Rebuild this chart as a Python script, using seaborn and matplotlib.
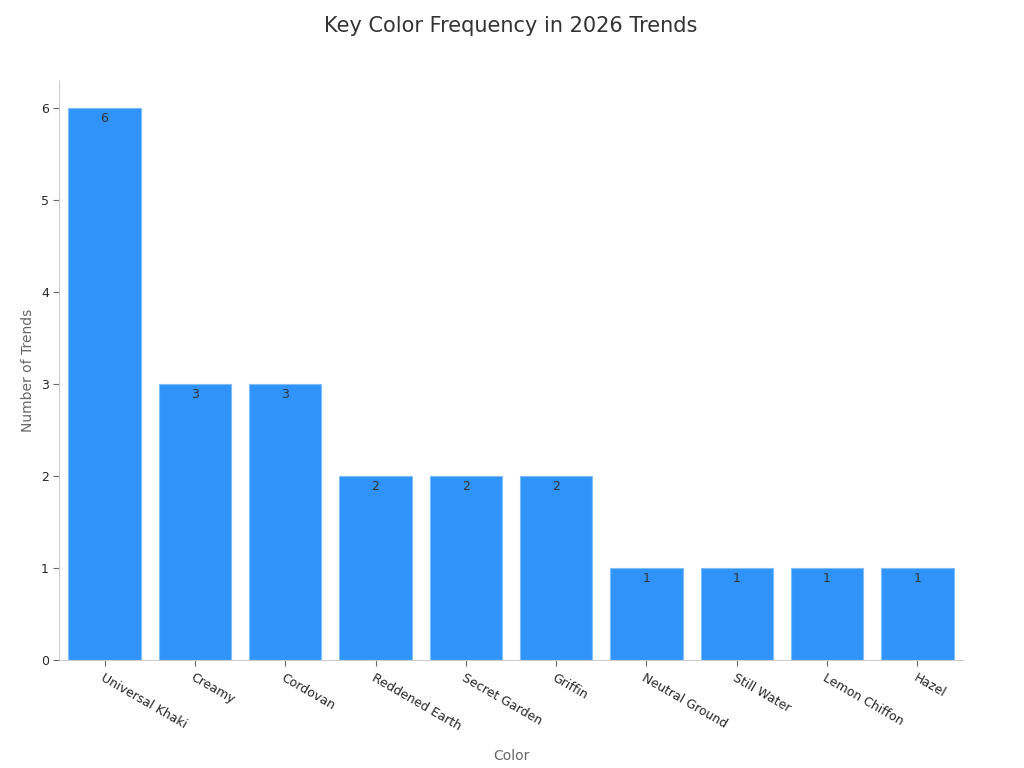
import matplotlib
matplotlib.use("Agg")
import matplotlib.pyplot as plt
import seaborn as sns
import pandas as pd

colors = ["Universal Khaki", "Creamy", "Cordovan", "Reddened Earth", "Secret Garden",
          "Griffin", "Neutral Ground", "Still Water", "Lemon Chiffon", "Hazel"]
counts = [6, 3, 3, 2, 2, 2, 1, 1, 1, 1]

sns.set_style("white")
plt.rcParams['font.family'] = ['DejaVu Sans']
df = pd.DataFrame({"Color": colors, "Count": counts})
fig, ax = plt.subplots(figsize=(10.24, 7.68), dpi=100)
sns.barplot(data=df, x="Color", y="Count", color="#2f93f9", saturation=1, width=0.8,
            edgecolor="#7fbfff", linewidth=0.8, ax=ax)
for i, v in enumerate(counts):
    ax.text(i, v - 0.04, str(v), ha="center", va="top", fontsize=9, color="#333333")
ax.set_xlim(-0.5, 9.5)
ax.set_ylim(0, 6.3)
ax.set_yticks(range(7))
ax.tick_params(axis="both", labelsize=9, length=4, color="#666666")
ax.tick_params(axis="x", bottom=True)
ax.tick_params(axis="y", left=True)
plt.setp(ax.get_xticklabels(), rotation=-30, ha="left", rotation_mode="anchor")
ax.set_xlabel("Color", fontsize=10, color="#666666", labelpad=12)
ax.set_ylabel("Number of Trends", fontsize=10, color="#666666")
ax.set_title("Key Color Frequency in 2026 Trends", fontsize=15, color="#333333", pad=35)
for s in ["top", "right"]:
    ax.spines[s].set_visible(False)
for s in ["left", "bottom"]:
    ax.spines[s].set_color("#cccccc")
plt.subplots_adjust(left=0.058, right=0.94, top=0.895, bottom=0.14)
fig.savefig("out.png", dpi=100)
